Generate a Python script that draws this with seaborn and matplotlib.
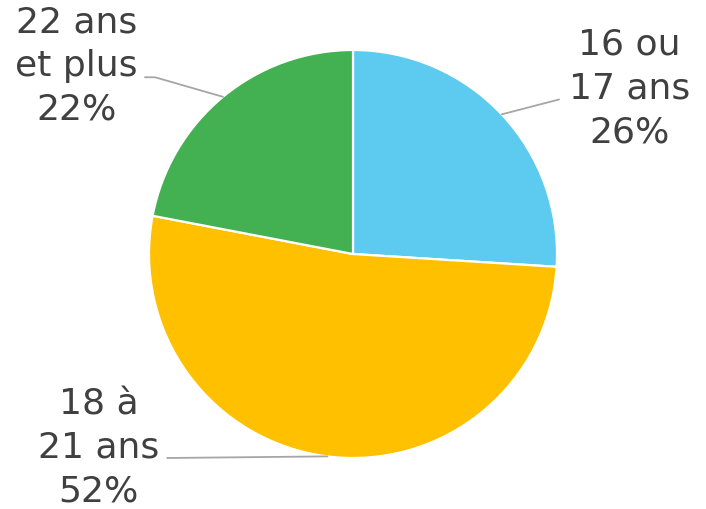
import numpy as np
import matplotlib
matplotlib.use("Agg")
import matplotlib.pyplot as plt
import seaborn as sns

# données
categories = ["16 ou\n17 ans", "18 à\n21 ans", "22 ans\net plus"]
valeurs = [26, 52, 22]
couleurs = ["#5DCBEF", "#FFC000", "#43B052"]

# positions des étiquettes (pixels dans l'image 706x510)
label_px = [(630, 90), (104, 446), (82, 68)]
ligne_px = [(560, 102), (172, 457), (150, 80)]

sns.set_style("white")
plt.rcParams['font.family'] = ['DejaVu Sans']

W, H = 706, 510
cx, cy, R = 356, 255, 202

fig = plt.figure(figsize=(W / 100, H / 100), dpi=100)
ax = fig.add_axes([0, 0, 1, 1])
ax.set_xlim(-cx / R, (W - cx) / R)
ax.set_ylim((cy - H) / R, cy / R)
ax.set_aspect("equal")
ax.axis("off")


def px(x, y):
    return (x - cx) / R, (cy - y) / R


wedges, _ = ax.pie(valeurs, colors=couleurs, startangle=90, counterclock=False,
                   radius=1, wedgeprops=dict(edgecolor="white", linewidth=1.6))

total = sum(valeurs)
for w, cat, v, lp, le in zip(wedges, categories, valeurs, label_px, ligne_px):
    ang = np.deg2rad((w.theta1 + w.theta2) / 2)
    edge = (np.cos(ang), np.sin(ang))
    lx, ly = px(*le)
    if cat.startswith("22"):
        ax.plot([lx, lx + 10 / R, edge[0]], [ly, ly, edge[1]], color="#A6A6A6", lw=1.3)
    else:
        ax.plot([lx, edge[0]], [ly, edge[1]], color="#A6A6A6", lw=1.3)
    tx, ty = px(*lp)
    ax.text(tx, ty, f"{cat}\n{round(v / total * 100)}%", ha="center", va="center",
            fontsize=26, color="#404040", linespacing=1.36)

plt.savefig("out.png", dpi=100)
